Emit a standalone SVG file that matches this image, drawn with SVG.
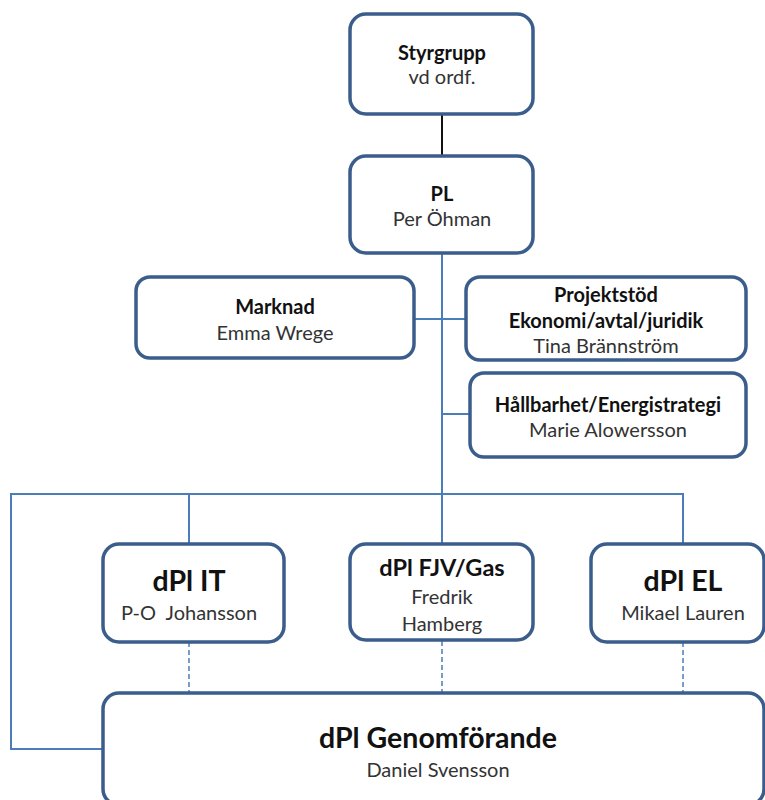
<svg xmlns="http://www.w3.org/2000/svg" width="765" height="800" viewBox="0 0 765 800">
<style>
.box{fill:#fff;stroke:#3b5d8c;stroke-width:3.5}
.ln{fill:none;stroke:#4a7ebb;stroke-width:2}
.dash{fill:none;stroke:#4a7ebb;stroke-width:1.5;stroke-dasharray:5,3}
text{font-family:Lato,"Open Sans",sans-serif;text-anchor:middle;fill:#222;white-space:pre}
.b{font-weight:bold;font-size:20px;fill:#111}
.r{font-size:20px;fill:#333}
.big{font-weight:bold;font-size:28.5px;fill:#111}
</style>
<rect width="765" height="800" fill="#fff"/>
<g id="connectors">
<line x1="442" y1="114" x2="442" y2="157" stroke="#111" stroke-width="2"/>
<polyline class="ln" points="442,253 442,494"/>
<line class="ln" x1="414" y1="319" x2="466" y2="319"/>
<line class="ln" x1="442" y1="414" x2="470" y2="414"/>
<polyline class="ln" points="103,749 11,749 11,494 683,494 683,544"/>
<line class="ln" x1="189" y1="494" x2="189" y2="544"/>
<line class="ln" x1="442" y1="494" x2="442" y2="544"/>
<line class="dash" x1="189" y1="642" x2="189" y2="693"/>
<line class="dash" x1="442" y1="641" x2="442" y2="693"/>
<line class="dash" x1="683" y1="642" x2="683" y2="693"/>
</g>
<g id="styrgrupp">
<rect class="box" x="350" y="14" width="183" height="100" rx="16"/>
<text class="b" x="442" y="60">Styrgrupp</text>
<text class="r" x="442" y="84">vd ordf.</text>
</g>
<g id="pl">
<rect class="box" x="350" y="156" width="183" height="97" rx="16"/>
<text class="b" x="442" y="201">PL</text>
<text class="r" x="442" y="226">Per Öhman</text>
</g>
<g id="marknad">
<rect class="box" x="136" y="277" width="278" height="81" rx="14"/>
<text class="b" x="275" y="314">Marknad</text>
<text class="r" x="275" y="340">Emma Wrege</text>
</g>
<g id="projektstod">
<rect class="box" x="466" y="277" width="280" height="83" rx="14"/>
<text class="b" x="606" y="302">Projektstöd</text>
<text class="b" x="606" y="328">Ekonomi/avtal/juridik</text>
<text class="r" x="606" y="353">Tina Brännström</text>
</g>
<g id="hallbarhet">
<rect class="box" x="470" y="373" width="276" height="84" rx="14"/>
<text class="b" x="608" y="412">Hållbarhet/Energistrategi</text>
<text class="r" x="608" y="437">Marie Alowersson</text>
</g>
<g id="dpl-it">
<rect class="box" x="103" y="544" width="181" height="98" rx="16"/>
<text class="big" x="189" y="591">dPl IT</text>
<text class="r" x="189" y="620">P-O  Johansson</text>
</g>
<g id="dpl-fjv">
<rect class="box" x="350" y="544" width="183" height="96" rx="16"/>
<text class="b" x="442" y="576" style="font-size:23.5px">dPl FJV/Gas</text>
<text class="r" x="442" y="604">Fredrik</text>
<text class="r" x="442" y="631">Hamberg</text>
</g>
<g id="dpl-el">
<rect class="box" x="591" y="544" width="173" height="98" rx="16"/>
<text class="big" x="683" y="591">dPl EL</text>
<text class="r" x="683" y="620">Mikael Lauren</text>
</g>
<g id="dpl-genomforande">
<rect class="box" x="103" y="693" width="661" height="112" rx="16"/>
<text class="big" x="438" y="748">dPl Genomförande</text>
<text class="r" x="438" y="777">Daniel Svensson</text>
</g>
</svg>
